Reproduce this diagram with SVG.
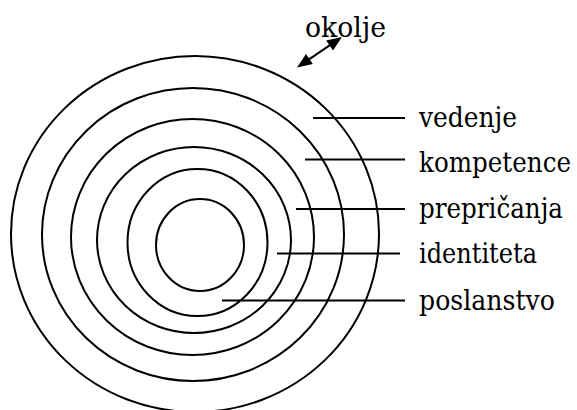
<svg xmlns="http://www.w3.org/2000/svg" width="577" height="410" viewBox="0 0 577 410">
<style>
  .ring { fill: none; stroke: #000; stroke-width: 2; }
  .lead { stroke: #000; stroke-width: 2; fill: none; }
  .head { fill: #000; stroke: none; }
  text { font-family: 'DejaVu Serif', 'Liberation Serif', serif; font-size: 27px; fill: #000; }
</style>
<rect width="577" height="410" fill="#fff"/>
<g id="ring-vedenje">
  <ellipse class="ring" cx="195" cy="234" rx="184" ry="178"/>
  <text transform="translate(419 127) scale(0.9 1)" textLength="108.9" lengthAdjust="spacingAndGlyphs">vedenje</text>
</g>
<g id="ring-kompetence">
  <ellipse class="ring" cx="193" cy="234.5" rx="151" ry="146.5"/>
  <text transform="translate(419 172) scale(0.9 1)" textLength="168.9" lengthAdjust="spacingAndGlyphs">kompetence</text>
</g>
<g id="ring-prepricanja">
  <ellipse class="ring" cx="192.5" cy="237" rx="121.5" ry="118"/>
  <text transform="translate(419 218) scale(0.9 1)" textLength="160" lengthAdjust="spacingAndGlyphs">prepričanja</text>
</g>
<g id="ring-identiteta">
  <ellipse class="ring" cx="194" cy="240" rx="97" ry="93"/>
  <text transform="translate(419 262.5) scale(0.9 1)" textLength="131.1" lengthAdjust="spacingAndGlyphs">identiteta</text>
</g>
<g id="ring-poslanstvo">
  <ellipse class="ring" cx="197.5" cy="242.5" rx="70" ry="73.5"/>
  <text transform="translate(419 310) scale(0.9 1)" textLength="151.1" lengthAdjust="spacingAndGlyphs">poslanstvo</text>
</g>
<g id="core">
  <ellipse class="ring" cx="200" cy="245" rx="44" ry="46"/>
</g>
<g id="okolje">
  <text transform="translate(305 37) scale(0.9 1)" textLength="90" lengthAdjust="spacingAndGlyphs">okolje</text>
</g>
<g id="connectors">
  <line class="lead" x1="313" y1="118" x2="405" y2="118"/>
  <line class="lead" x1="305" y1="159.5" x2="405" y2="159.5"/>
  <line class="lead" x1="296" y1="209" x2="405" y2="209"/>
  <line class="lead" x1="277" y1="253.5" x2="400" y2="253.5"/>
  <line class="lead" x1="222" y1="300.5" x2="405" y2="300.5"/>
  <line class="lead" x1="309" y1="59.3" x2="330" y2="45.2"/>
  <polygon class="head" points="297,67.5 312.8,64.1 306,54.1"/>
  <polygon class="head" points="342,37 326.2,40.4 333,50.4"/>
</g>
</svg>
